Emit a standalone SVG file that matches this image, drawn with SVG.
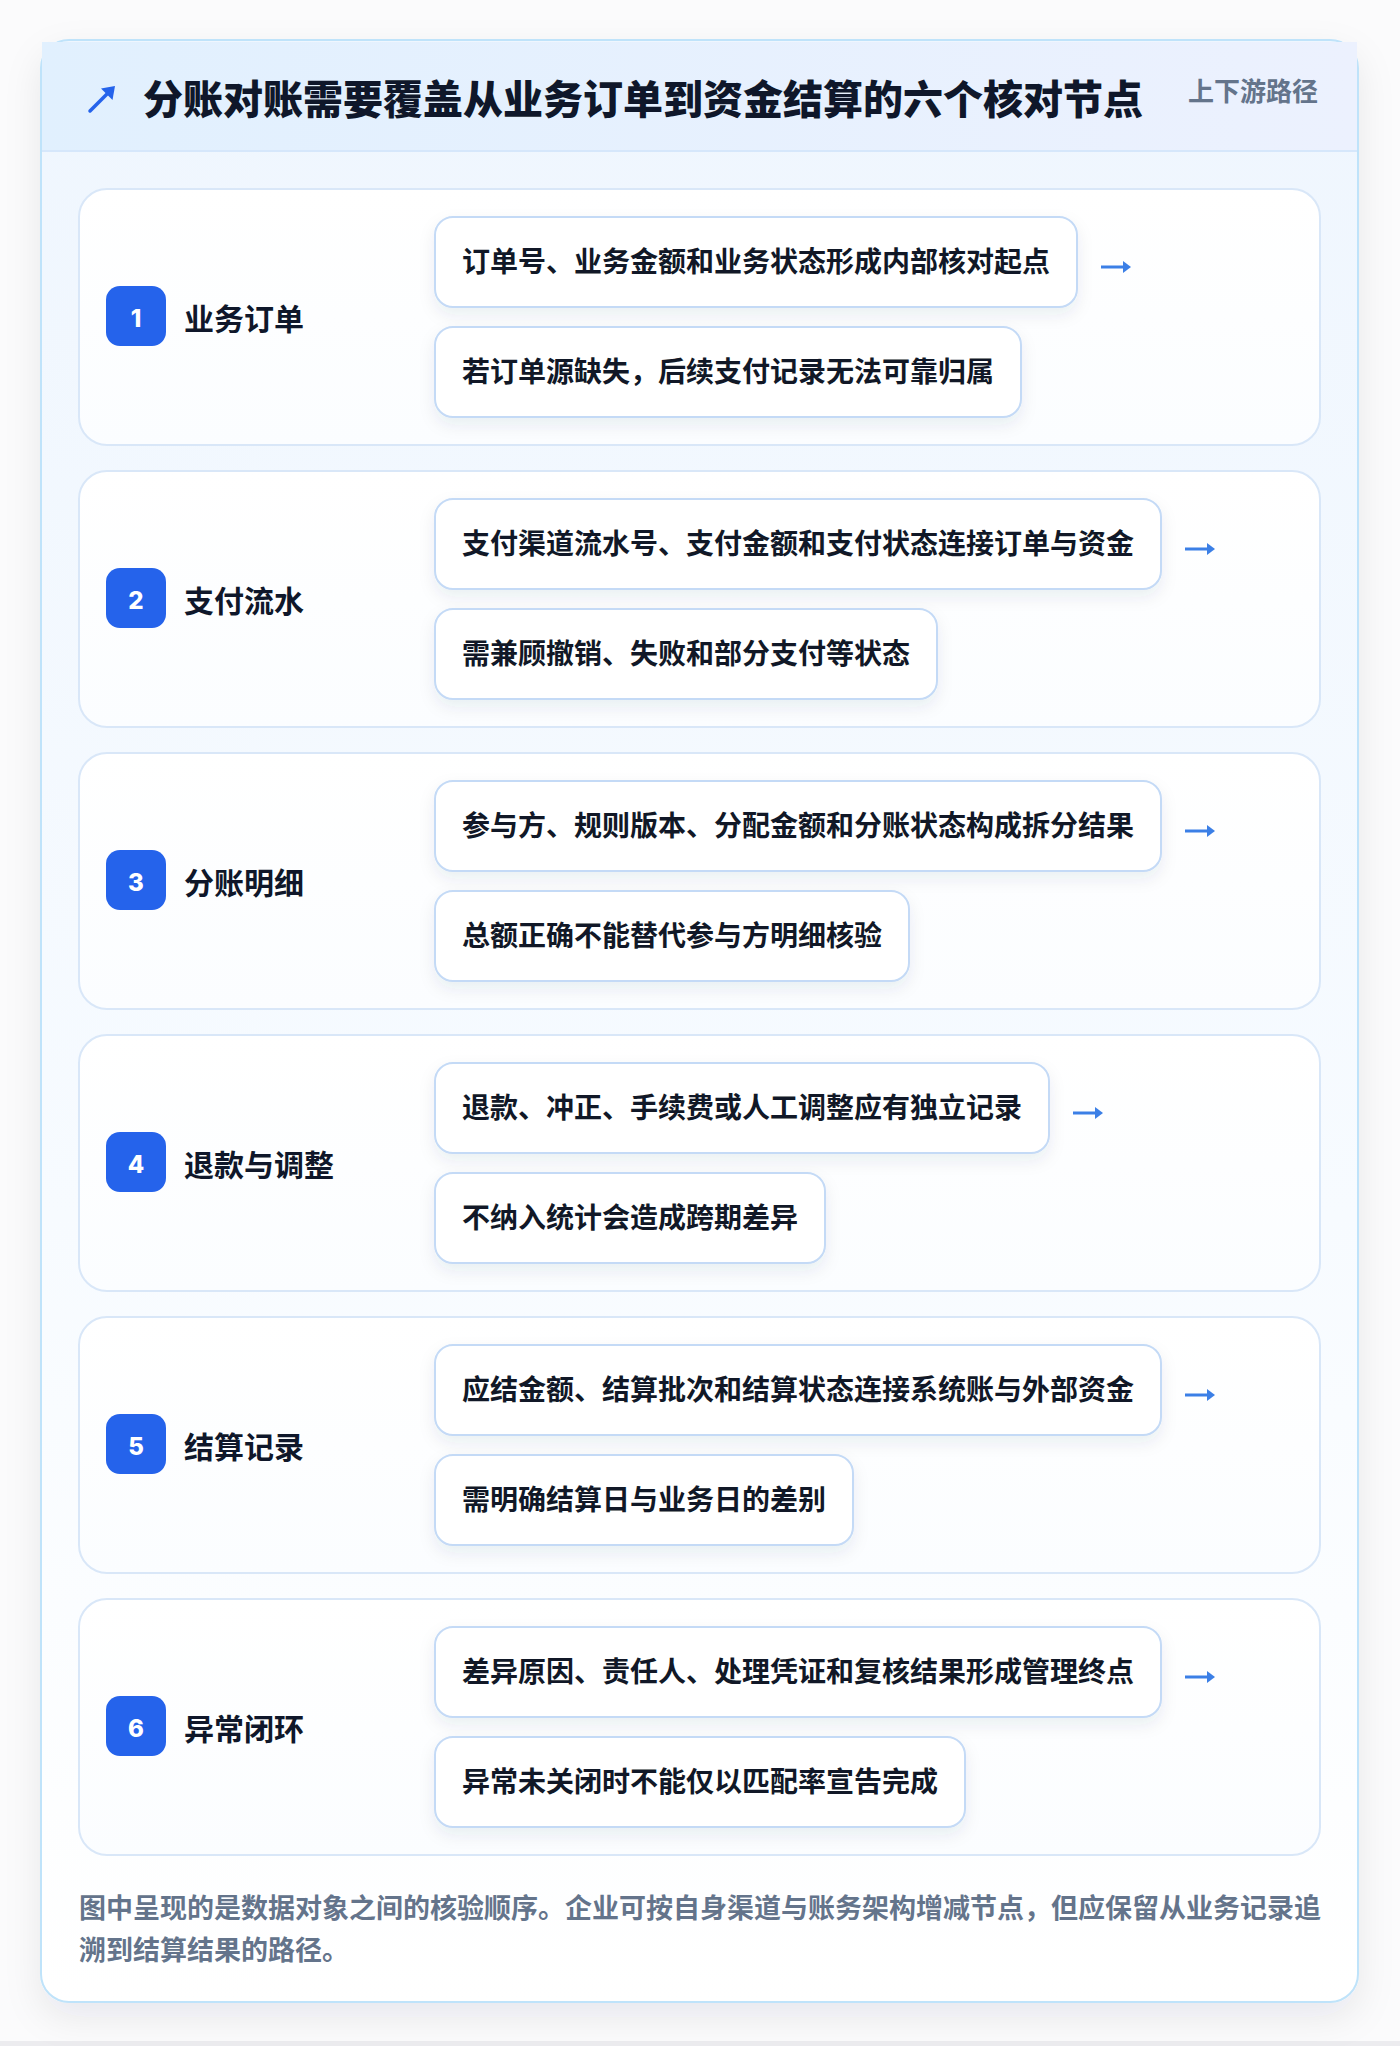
<svg xmlns="http://www.w3.org/2000/svg" width="1400" height="2046" viewBox="0 0 1400 2046">
  <defs>
    <style>
      .cjk { font-family: "Noto Sans CJK SC", "Noto Sans", sans-serif; }
      .title { font-size: 40px; font-weight: 900; fill: #0f172a; }
      .tag { font-size: 26px; font-weight: 700; fill: #64748b; }
      .label { font-size: 30px; font-weight: 700; fill: #0f172a; }
      .sub { font-size: 28px; font-weight: 700; fill: #111827; }
      .num { font-family: "Inter", "Liberation Sans", sans-serif; font-size: 24px; font-weight: 800; fill: #ffffff; }
      .foot { font-size: 27px; font-weight: 700; fill: #64748b; }
      .card { fill: url(#cardFill); stroke: #d9e7f8; stroke-width: 2; }
      .badge { fill: #2563eb; }
      .box { fill: #ffffff; stroke: #c4daf6; stroke-width: 2; }
      .shaft { stroke: #3b7fe6; stroke-width: 3; fill: none; }
      .head { fill: #3b7fe6; }
    </style>
    <linearGradient id="bodyFill" x1="0" y1="0" x2="0" y2="1">
      <stop offset="0" stop-color="#eff6fe"/>
      <stop offset="0.6" stop-color="#f7fbff"/>
      <stop offset="1" stop-color="#ffffff"/>
    </linearGradient>
    <linearGradient id="headFill" x1="0" y1="0" x2="1" y2="0">
      <stop offset="0" stop-color="#e1f0fe"/>
      <stop offset="1" stop-color="#ecf1fe"/>
    </linearGradient>
    <linearGradient id="cardFill" x1="0" y1="0" x2="0" y2="1">
      <stop offset="0" stop-color="#ffffff"/>
      <stop offset="1" stop-color="#fbfdff"/>
    </linearGradient>
    <filter id="outerShadow" x="-10%" y="-10%" width="120%" height="120%">
      <feDropShadow dx="0" dy="14" stdDeviation="18" flood-color="#1e293b" flood-opacity="0.08"/>
    </filter>
    <filter id="boxShadow" x="-10%" y="-30%" width="120%" height="170%">
      <feDropShadow dx="0" dy="7" stdDeviation="8" flood-color="#1e3a5f" flood-opacity="0.08"/>
    </filter>
  </defs>

  <rect x="0" y="0" width="1400" height="2046" fill="#fbfbfc"/>
  <rect x="0" y="2041" width="1400" height="5" fill="#ececef"/>

  <g id="frame">
    <rect x="41" y="40" width="1317" height="1962" rx="28" fill="url(#bodyFill)" stroke="#bfe3fa" stroke-width="2" filter="url(#outerShadow)"/>
    <rect x="42" y="42" width="1315" height="109" fill="url(#headFill)"/>
    <line x1="42" y1="151" x2="1357" y2="151" stroke="#d6e7fb" stroke-width="2"/>
  </g>

  <g id="header">
    <line x1="90" y1="111" x2="108" y2="93" stroke="#2563eb" stroke-width="3.5" stroke-linecap="round"/>
    <polygon points="115,86 112.5,100 101,88.5" fill="#2563eb"/>
    <text class="cjk title" x="143" y="97" dominant-baseline="central">分账对账需要覆盖从业务订单到资金结算的六个核对节点</text>
    <text class="cjk tag" x="1318" y="89" text-anchor="end" dominant-baseline="central">上下游路径</text>
  </g>

  <g id="node-1">
    <rect class="card" x="79" y="189" width="1241" height="256" rx="28"/>
    <rect class="badge" x="106" y="286" width="60" height="60" rx="14"/>
    <text class="num" x="136" y="327" text-anchor="middle">1</text>
    <text class="cjk label" x="184" y="317" dominant-baseline="central">业务订单</text>
    <rect class="box" x="435" y="217" width="642" height="90" rx="18" filter="url(#boxShadow)"/>
    <text class="cjk sub" x="462" y="260" dominant-baseline="central">订单号、业务金额和业务状态形成内部核对起点</text>
    <rect class="box" x="435" y="327" width="586" height="90" rx="18" filter="url(#boxShadow)"/>
    <text class="cjk sub" x="462" y="370" dominant-baseline="central">若订单源缺失，后续支付记录无法可靠归属</text>
  </g>

  <g id="node-2">
    <rect class="card" x="79" y="471" width="1241" height="256" rx="28"/>
    <rect class="badge" x="106" y="568" width="60" height="60" rx="14"/>
    <text class="num" x="136" y="609" text-anchor="middle">2</text>
    <text class="cjk label" x="184" y="599" dominant-baseline="central">支付流水</text>
    <rect class="box" x="435" y="499" width="726" height="90" rx="18" filter="url(#boxShadow)"/>
    <text class="cjk sub" x="462" y="542" dominant-baseline="central">支付渠道流水号、支付金额和支付状态连接订单与资金</text>
    <rect class="box" x="435" y="609" width="502" height="90" rx="18" filter="url(#boxShadow)"/>
    <text class="cjk sub" x="462" y="652" dominant-baseline="central">需兼顾撤销、失败和部分支付等状态</text>
  </g>

  <g id="node-3">
    <rect class="card" x="79" y="753" width="1241" height="256" rx="28"/>
    <rect class="badge" x="106" y="850" width="60" height="60" rx="14"/>
    <text class="num" x="136" y="891" text-anchor="middle">3</text>
    <text class="cjk label" x="184" y="881" dominant-baseline="central">分账明细</text>
    <rect class="box" x="435" y="781" width="726" height="90" rx="18" filter="url(#boxShadow)"/>
    <text class="cjk sub" x="462" y="824" dominant-baseline="central">参与方、规则版本、分配金额和分账状态构成拆分结果</text>
    <rect class="box" x="435" y="891" width="474" height="90" rx="18" filter="url(#boxShadow)"/>
    <text class="cjk sub" x="462" y="934" dominant-baseline="central">总额正确不能替代参与方明细核验</text>
  </g>

  <g id="node-4">
    <rect class="card" x="79" y="1035" width="1241" height="256" rx="28"/>
    <rect class="badge" x="106" y="1132" width="60" height="60" rx="14"/>
    <text class="num" x="136" y="1173" text-anchor="middle">4</text>
    <text class="cjk label" x="184" y="1163" dominant-baseline="central">退款与调整</text>
    <rect class="box" x="435" y="1063" width="614" height="90" rx="18" filter="url(#boxShadow)"/>
    <text class="cjk sub" x="462" y="1106" dominant-baseline="central">退款、冲正、手续费或人工调整应有独立记录</text>
    <rect class="box" x="435" y="1173" width="390" height="90" rx="18" filter="url(#boxShadow)"/>
    <text class="cjk sub" x="462" y="1216" dominant-baseline="central">不纳入统计会造成跨期差异</text>
  </g>

  <g id="node-5">
    <rect class="card" x="79" y="1317" width="1241" height="256" rx="28"/>
    <rect class="badge" x="106" y="1414" width="60" height="60" rx="14"/>
    <text class="num" x="136" y="1455" text-anchor="middle">5</text>
    <text class="cjk label" x="184" y="1445" dominant-baseline="central">结算记录</text>
    <rect class="box" x="435" y="1345" width="726" height="90" rx="18" filter="url(#boxShadow)"/>
    <text class="cjk sub" x="462" y="1388" dominant-baseline="central">应结金额、结算批次和结算状态连接系统账与外部资金</text>
    <rect class="box" x="435" y="1455" width="418" height="90" rx="18" filter="url(#boxShadow)"/>
    <text class="cjk sub" x="462" y="1498" dominant-baseline="central">需明确结算日与业务日的差别</text>
  </g>

  <g id="node-6">
    <rect class="card" x="79" y="1599" width="1241" height="256" rx="28"/>
    <rect class="badge" x="106" y="1696" width="60" height="60" rx="14"/>
    <text class="num" x="136" y="1737" text-anchor="middle">6</text>
    <text class="cjk label" x="184" y="1727" dominant-baseline="central">异常闭环</text>
    <rect class="box" x="435" y="1627" width="726" height="90" rx="18" filter="url(#boxShadow)"/>
    <text class="cjk sub" x="462" y="1670" dominant-baseline="central">差异原因、责任人、处理凭证和复核结果形成管理终点</text>
    <rect class="box" x="435" y="1737" width="530" height="90" rx="18" filter="url(#boxShadow)"/>
    <text class="cjk sub" x="462" y="1780" dominant-baseline="central">异常未关闭时不能仅以匹配率宣告完成</text>
  </g>

  <g id="connectors">
    <path class="shaft" d="M1101 267 H1125"/>
    <path class="head" d="M1123 261 L1131 267 L1123 273 Z"/>
    <path class="shaft" d="M1185 549 H1209"/>
    <path class="head" d="M1207 543 L1215 549 L1207 555 Z"/>
    <path class="shaft" d="M1185 831 H1209"/>
    <path class="head" d="M1207 825 L1215 831 L1207 837 Z"/>
    <path class="shaft" d="M1073 1113 H1097"/>
    <path class="head" d="M1095 1107 L1103 1113 L1095 1119 Z"/>
    <path class="shaft" d="M1185 1395 H1209"/>
    <path class="head" d="M1207 1389 L1215 1395 L1207 1401 Z"/>
    <path class="shaft" d="M1185 1677 H1209"/>
    <path class="head" d="M1207 1671 L1215 1677 L1207 1683 Z"/>
  </g>

  <g id="footer">
    <text class="cjk foot" x="79" y="1906" dominant-baseline="central">图中呈现的是数据对象之间的核验顺序。企业可按自身渠道与账务架构增减节点，但应保留从业务记录追</text>
    <text class="cjk foot" x="79" y="1948" dominant-baseline="central">溯到结算结果的路径。</text>
  </g>
</svg>
